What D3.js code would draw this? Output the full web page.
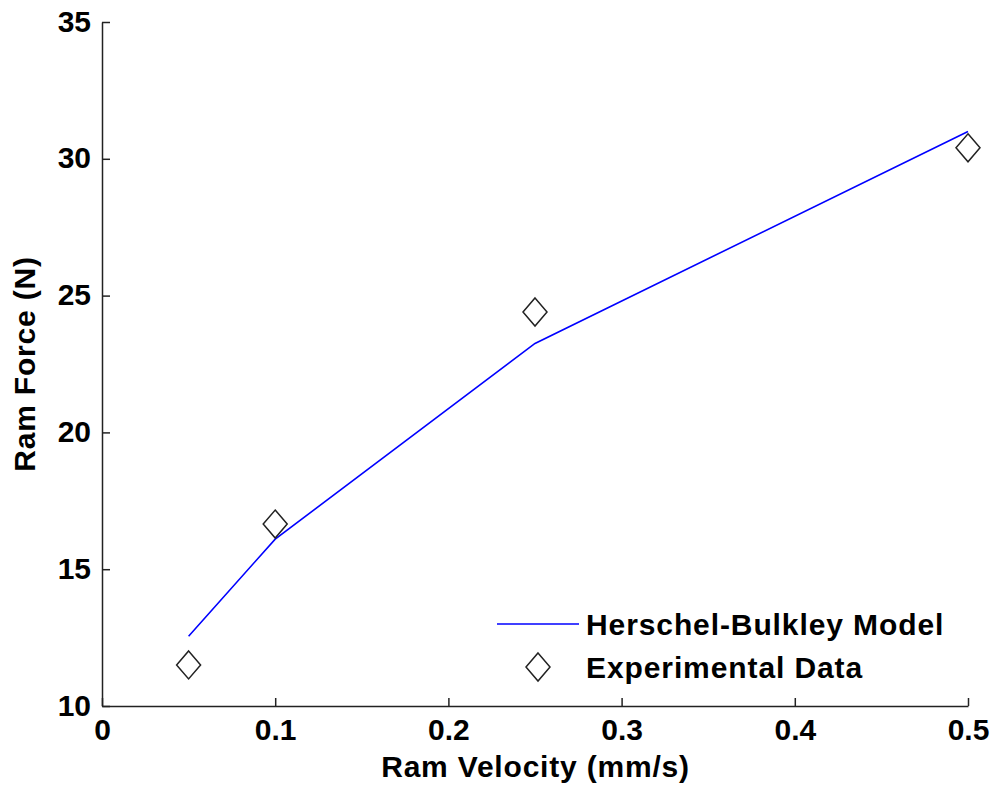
<!DOCTYPE html>
<html>
<head>
<meta charset="utf-8">
<script src="https://cdn.jsdelivr.net/npm/d3@7"></script>
<style>
  body { margin: 0; background: #fff; }
  text { font-family: "Liberation Sans", Arial, sans-serif; fill: #000; font-weight: bold; }
</style>
</head>
<body>
<div id="chart"></div>
<script>
// velocities (mm/s)
const velocities = [0.05, 0.1, 0.25, 0.5];
// Herschel-Bulkley fit (N)
const modelForce = [12.55, 16.1, 23.25, 31.0];
// measured (N)
const expForce = [11.5, 16.65, 24.4, 30.4];

const xTicks = [0, 0.1, 0.2, 0.3, 0.4, 0.5];
const yTicks = [10, 15, 20, 25, 30, 35];

const seriesNames = ["Herschel-Bulkley Model", "Experimental Data"];

let margins = { top: 22, bottom: 84, left: 102, right: 26 };
let width = 995 - margins.left - margins.right;
let height = 790 - margins.top - margins.bottom;
let fontSize = "30px";

let svg = d3.select("#chart").append("svg")
    .attr("width", 995)
    .attr("height", 790)
    .append("g")
    .attr("transform", "translate(" + margins.left + "," + margins.top + ")");

let xScale = d3.scaleLinear().domain([0, 0.5]).range([0, width - 1]);
let yScale = d3.scaleLinear().domain([10, 35]).range([height, 0]);

// axes, ticks pointing inward like matlab
let xAxis = svg.append("g")
    .attr("transform", "translate(0," + height + ")")
    .call(d3.axisBottom(xScale).tickValues(xTicks).tickSize(-8).tickSizeOuter(0)
        .tickFormat(d => d === 0 ? "0" : String(d)));
let yAxis = svg.append("g")
    .call(d3.axisLeft(yScale).tickValues(yTicks).tickSize(-8).tickSizeOuter(0));

[xAxis, yAxis].forEach(function (ax) {
    ax.select(".domain").attr("stroke", "#222").attr("stroke-width", 1.5);
    ax.selectAll(".tick line").attr("stroke", "#222").attr("stroke-width", 1.5);
    ax.selectAll(".tick text")
        .style("font-size", fontSize)
        .style("font-family", "Liberation Sans, Arial, sans-serif")
        .style("font-weight", "bold")
        .attr("fill", "#000");
});
xAxis.selectAll(".tick text").attr("y", 13);
yAxis.selectAll(".tick text").attr("x", -11).attr("dy", "0.3em");

let line = d3.line()
    .x((d, i) => xScale(velocities[i]))
    .y(d => yScale(d));

svg.append("path")
    .datum(modelForce)
    .attr("fill", "none")
    .attr("stroke", "#0000ff")
    .attr("stroke-width", 1.6)
    .attr("d", line);

function diamond(cx, cy) {
    return "M" + cx + "," + (cy - 14) + "L" + (cx + 12) + "," + cy +
        "L" + cx + "," + (cy + 14) + "L" + (cx - 12) + "," + cy + "Z";
}

svg.selectAll(".pt")
    .data(expForce)
    .enter().append("path")
    .attr("class", "pt")
    .attr("d", (d, i) => diamond(xScale(velocities[i]), yScale(d)))
    .attr("fill", "none")
    .attr("stroke", "#222")
    .attr("stroke-width", 1.5);

// axis titles
svg.append("text")
    .text("Ram Velocity (mm/s)")
    .attr("text-anchor", "middle")
    .attr("x", width / 2)
    .attr("y", height + 71)
    .style("font-size", fontSize)
    .style("letter-spacing", "0.8px");

svg.append("text")
    .text("Ram Force (N)")
    .attr("text-anchor", "middle")
    .attr("transform", "translate(" + (-67) + "," + (height / 2) + ") rotate(-90)")
    .style("font-size", fontSize)
    .style("letter-spacing", "0.8px");

// legend
let legend = svg.append("g").attr("transform", "translate(395,602)");
legend.append("line")
    .attr("x1", 0).attr("x2", 82).attr("y1", 0).attr("y2", 0)
    .attr("stroke", "#0000ff").attr("stroke-width", 1.6);
legend.append("path")
    .attr("d", diamond(41, 43))
    .attr("fill", "none").attr("stroke", "#222").attr("stroke-width", 1.5);
legend.selectAll(".lt")
    .data(seriesNames)
    .enter().append("text")
    .attr("x", 89)
    .attr("y", (d, i) => i * 43)
    .attr("dy", "0.35em")
    .style("font-size", fontSize)
    .style("letter-spacing", "0.9px")
    .text(d => d);
</script>
</body>
</html>
